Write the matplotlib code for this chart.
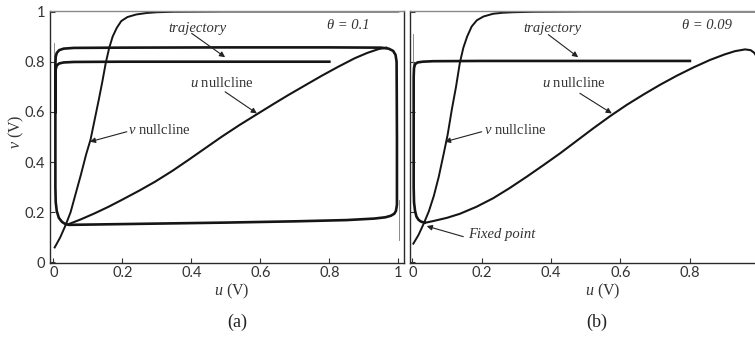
import matplotlib
matplotlib.use("Agg")
import matplotlib.pyplot as plt

plt.rcParams["mathtext.fontset"] = "custom"
plt.rcParams["mathtext.it"] = "Liberation Serif:italic"
plt.rcParams["mathtext.rm"] = "Liberation Serif"

SERIF = "Liberation Serif"
SANS = "Lato"
INK = "#151515"

# ---------------- panel (a): theta = 0.1 ----------------
a_vnull_u = [0.004, 0.02, 0.036, 0.05, 0.066, 0.08, 0.095, 0.108, 0.12, 0.132, 0.142,
             0.152, 0.162, 0.172, 0.184, 0.197, 0.215, 0.24, 0.27, 0.30, 0.35, 0.5, 0.75, 1.0]
a_vnull_v = [0.06, 0.10, 0.15, 0.20, 0.28, 0.35, 0.43, 0.49, 0.57, 0.65, 0.72,
             0.795, 0.855, 0.90, 0.935, 0.962, 0.978, 0.988, 0.994, 0.997, 0.999, 1.0, 1.0, 1.0]

a_unull_u = [0.043, 0.08, 0.12, 0.16, 0.198, 0.25, 0.295, 0.345, 0.391, 0.44, 0.488, 0.54,
             0.594, 0.64, 0.681, 0.73, 0.778, 0.826, 0.874, 0.91, 0.942, 0.965]
a_unull_v = [0.152, 0.172, 0.196, 0.222, 0.249, 0.287, 0.322, 0.365, 0.408, 0.455, 0.501, 0.548,
             0.594, 0.633, 0.667, 0.706, 0.744, 0.780, 0.814, 0.835, 0.850, 0.856]

a_traj_u = [0.80, 0.5, 0.2, 0.06, 0.03, 0.017, 0.010, 0.007, 0.006, 0.006, 0.006, 0.007,
            0.010, 0.016, 0.025, 0.035, 0.045, 0.1, 0.3, 0.5, 0.7, 0.85, 0.93, 0.962,
            0.978, 0.988, 0.993, 0.996, 0.996, 0.995, 0.992, 0.985, 0.972, 0.95, 0.8,
            0.5, 0.2, 0.06, 0.03, 0.017, 0.010, 0.007, 0.006, 0.006]
a_traj_v = [0.80, 0.80, 0.80, 0.799, 0.797, 0.793, 0.785, 0.77, 0.74, 0.5, 0.3, 0.24,
            0.205, 0.178, 0.162, 0.153, 0.150, 0.151, 0.155, 0.159, 0.164, 0.169, 0.175, 0.180,
            0.186, 0.194, 0.205, 0.23, 0.5, 0.8, 0.827, 0.843, 0.852, 0.856, 0.857,
            0.857, 0.856, 0.855, 0.852, 0.846, 0.835, 0.82, 0.79, 0.6]

a_thin1_u = [0.002, 0.002]
a_thin1_v = [0.875, 0.75]
a_thin2_u = [1.003, 1.003]
a_thin2_v = [0.25, 0.09]

# ---------------- panel (b): theta = 0.09 ----------------
b_vnull_u = [0.003, 0.018, 0.033, 0.048, 0.062, 0.076, 0.09, 0.102, 0.114, 0.126, 0.137,
             0.147, 0.158, 0.171, 0.186, 0.205, 0.233, 0.26, 0.29, 0.35, 0.5, 0.75, 1.0]
b_vnull_v = [0.075, 0.11, 0.155, 0.205, 0.265, 0.34, 0.43, 0.51, 0.61, 0.70, 0.795,
             0.855, 0.90, 0.94, 0.965, 0.98, 0.991, 0.995, 0.997, 0.999, 1.0, 1.0, 1.0]

b_unull_u = [0.036, 0.06, 0.1, 0.137, 0.185, 0.233, 0.28, 0.33, 0.378, 0.426, 0.474, 0.522,
             0.57, 0.618, 0.666, 0.714, 0.762, 0.81, 0.858, 0.9, 0.93, 0.959, 0.975, 0.985,
             0.993, 1.0]
b_unull_v = [0.158, 0.165, 0.178, 0.194, 0.222, 0.256, 0.296, 0.342, 0.388, 0.435, 0.485, 0.535,
             0.583, 0.628, 0.669, 0.708, 0.744, 0.777, 0.807, 0.829, 0.842, 0.849, 0.846, 0.836,
             0.82, 0.80]

b_traj_u = [0.80, 0.5, 0.2, 0.06, 0.03, 0.015, 0.008, 0.005, 0.004, 0.004, 0.004, 0.005,
            0.008, 0.012, 0.018, 0.025, 0.032, 0.036]
b_traj_v = [0.803, 0.803, 0.803, 0.802, 0.80, 0.797, 0.79, 0.775, 0.74, 0.5, 0.3, 0.24,
            0.205, 0.183, 0.17, 0.163, 0.16, 0.159]

b_thin_u = [0.002, 0.002]
b_thin_v = [0.91, 0.78]

a_x_ticks = [0, 0.2, 0.4, 0.6, 0.8, 1.0]
a_x_tick_labels = ["0", "0.2", "0.4", "0.6", "0.8", "1"]
b_x_ticks = [0, 0.2, 0.4, 0.6, 0.8]
b_x_tick_labels = ["0", "0.2", "0.4", "0.6", "0.8"]
y_ticks = [0, 0.2, 0.4, 0.6, 0.8, 1.0]
y_tick_labels = ["0", "0.2", "0.4", "0.6", "0.8", "1"]

W, H = 755, 340
fig = plt.figure(figsize=(W / 100, H / 100), dpi=100)


def px_axes(left, right, top, bottom):
    return fig.add_axes([left / W, 1 - bottom / H, (right - left) / W, (bottom - top) / H])


ax_a = px_axes(50, 403.5, 11, 263)
ax_b = px_axes(410, 764.5, 11, 263)

for ax, x0 in ((ax_a, -0.0096), (ax_b, -0.0066)):
    ax.set_xlim(x0, 1.015)
    ax.set_ylim(-0.002, 1.002)
    ax.set_yticks(y_ticks)
    ax.tick_params(direction="in", length=3.5, width=0.8, colors="#333333",
                   labelsize=10.5, pad=2.5)
    for side in ("left", "bottom", "right"):
        ax.spines[side].set_color("#2a2a2a")
        ax.spines[side].set_linewidth(1.0)
    ax.spines["top"].set_color("#8a8a8a")
    ax.spines["top"].set_linewidth(1.0)

ax_a.set_xticks(a_x_ticks)
ax_a.set_xticklabels(a_x_tick_labels, fontfamily=SANS)
ax_a.set_yticklabels(y_tick_labels, fontfamily=SANS)
ax_a.tick_params(axis="y", pad=3.5)
ax_b.set_xticks(b_x_ticks)
ax_b.set_xticklabels(b_x_tick_labels, fontfamily=SANS)
ax_b.set_yticklabels([])
ax_b.spines["right"].set_visible(False)

# curves
ax_a.plot(a_thin1_u, a_thin1_v, color="#777777", lw=0.6)
ax_a.plot(a_thin2_u, a_thin2_v, color="#777777", lw=0.6)
ax_a.plot(a_vnull_u, a_vnull_v, color=INK, lw=1.4)
ax_a.plot(a_unull_u, a_unull_v, color=INK, lw=1.5)
ax_a.plot(a_traj_u, a_traj_v, color=INK, lw=1.9, solid_joinstyle="round")

ax_b.plot(b_thin_u, b_thin_v, color="#777777", lw=0.6)
ax_b.plot(b_vnull_u, b_vnull_v, color=INK, lw=1.4)
ax_b.plot(b_unull_u, b_unull_v, color=INK, lw=1.5)
ax_b.plot(b_traj_u, b_traj_v, color=INK, lw=1.9, solid_joinstyle="round")

# annotations
arrow = dict(arrowstyle="-|>", color="#222222", lw=0.8, mutation_scale=8,
             shrinkA=0, shrinkB=0)
txt = dict(fontfamily=SERIF, fontsize=10.5, color="#333333", ha="center", va="center")


def label(ax, text, xy_text, xy_tip=None, arrow_start=None, **kw):
    style = dict(txt)
    style.update(kw)
    ax.text(xy_text[0], xy_text[1], text, **style)
    if xy_tip is not None:
        ax.annotate("", xy=xy_tip, xytext=arrow_start, arrowprops=arrow)


label(ax_a, "trajectory", (0.418, 0.933), (0.498, 0.818), (0.401, 0.913), style="italic")
label(ax_a, "$u$ nullcline", (0.488, 0.714), (0.59, 0.594), (0.498, 0.68))
label(ax_a, "$v$ nullcline", (0.309, 0.528), (0.106, 0.481), (0.213, 0.521))
label(ax_a, "θ = 0.1", (0.918, 0.946), style="italic", ha="right")

label(ax_b, "trajectory", (0.404, 0.933), (0.478, 0.818), (0.392, 0.908), style="italic")
label(ax_b, "$u$ nullcline", (0.466, 0.714), (0.575, 0.594), (0.483, 0.674))
label(ax_b, "$v$ nullcline", (0.296, 0.528), (0.094, 0.481), (0.2, 0.521))
label(ax_b, "Fixed point", (0.258, 0.11), (0.0415, 0.145), (0.147, 0.103), style="italic")
label(ax_b, "θ = 0.09", (0.92, 0.946), style="italic", ha="right")

# axis titles and panel tags
for xc in (232, 603):
    fig.text(xc / W, 1 - 291 / H, "$u$ (V)", fontfamily=SERIF, fontsize=11.5,
             color="#333333", ha="center", va="center")
fig.text(16 / W, 1 - 132 / H, "$v$ (V)", fontfamily=SERIF, fontsize=11.5,
         color="#333333", ha="center", va="center", rotation=90)
fig.text(237 / W, 1 - 322 / H, "(a)", fontfamily=SERIF, fontsize=13,
         color="#222222", ha="center", va="center")
fig.text(597 / W, 1 - 322 / H, "(b)", fontfamily=SERIF, fontsize=13,
         color="#222222", ha="center", va="center")

fig.savefig("out.png", dpi=100)
